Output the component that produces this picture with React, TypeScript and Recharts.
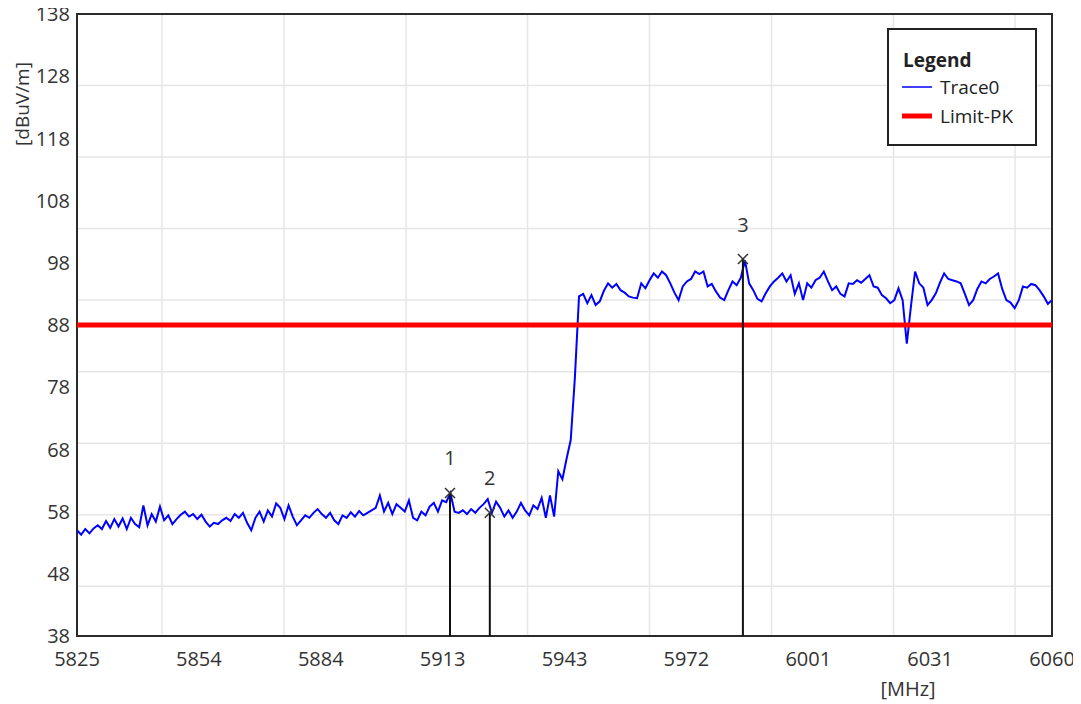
import React from 'react';
import {
  LineChart,
  Line,
  XAxis,
  YAxis,
  CartesianGrid,
  ReferenceLine,
  ReferenceDot,
  ReferenceArea,
} from 'recharts';

// ---- data ----
const traceStartMHz = 5825;
const traceStepMHz = 1;
const traceLevels = [
  55.0, 54.3, 55.2, 54.5, 55.3, 55.8, 55.2, 56.5, 55.4, 56.8,
  55.6, 56.9, 55.2, 57.0, 56.0, 55.5, 59.0, 55.8, 57.6, 56.4,
  58.8, 56.6, 57.4, 56.0, 56.8, 57.5, 58.0, 57.2, 57.6, 56.8,
  57.5, 56.4, 55.6, 56.2, 56.0, 56.6, 57.0, 56.5, 57.6, 57.0,
  57.8, 56.2, 55.0, 57.0, 58.0, 56.4, 58.2, 57.2, 59.3, 58.6,
  56.8, 59.0, 57.2, 55.8, 56.6, 57.4, 57.0, 57.8, 58.4, 57.6,
  57.0, 57.8, 56.6, 56.0, 57.4, 57.0, 57.9, 57.2, 58.1, 57.4,
  57.8, 58.2, 58.6, 60.6, 58.0, 59.4, 57.6, 59.2, 58.6, 58.0,
  59.8, 57.0, 56.6, 58.0, 57.4, 58.8, 59.4, 58.0, 59.8, 59.5,
  61.0, 58.0, 57.8, 58.2, 57.6, 58.4, 57.8, 58.6, 59.2, 60.0,
  57.8, 59.6, 58.6, 57.2, 58.2, 57.0, 58.0, 59.4, 58.2, 57.4,
  59.0, 58.4, 60.2, 57.0, 60.6, 57.2, 64.5, 63.2, 66.5, 69.5,
  79.5, 92.6, 93.0, 91.5, 92.8, 91.2, 91.8, 93.5, 94.7, 94.0,
  94.6, 93.6, 93.2, 92.6, 92.4, 92.3, 94.7, 93.9, 95.2, 96.3,
  95.6, 96.6, 96.0, 94.7, 93.2, 92.0, 94.2, 95.0, 95.4, 96.6,
  96.2, 96.6, 94.2, 94.6, 93.4, 92.4, 92.0, 93.6, 95.0, 94.4,
  95.6, 98.4, 94.7, 93.6, 92.2, 91.8, 93.1, 94.2, 95.0, 95.6,
  96.3, 95.0, 96.0, 93.0, 94.7, 92.0, 94.7, 94.0, 95.2, 95.6,
  96.6, 95.0, 93.6, 94.2, 93.0, 92.6, 94.7, 94.6, 95.2, 94.8,
  95.4, 96.0, 94.2, 94.0, 92.8, 92.3, 91.5, 92.0, 93.9, 92.0,
  85.0, 91.0, 96.6, 94.7, 94.0, 91.2, 92.0, 93.1, 94.8, 96.3,
  95.4, 95.2, 95.0, 94.7, 93.0, 91.2, 92.0, 93.8, 95.0, 94.7,
  95.4, 95.8, 96.3, 93.8, 92.0, 91.6, 90.7, 92.0, 94.2, 94.0,
  94.6, 94.4, 93.6, 92.6, 91.4, 92.0,
];

const limitPK = 88;

const markerFreqs = [5914.9, 5924.5, 5985.5];
const markerLevels = [61.0, 57.8, 98.6];
const markerLabels = ['1', '2', '3'];

const xDomain = [5825, 6060];
const yDomain = [38, 138];
const xTicks = [5825, 5854.375, 5883.75, 5913.125, 5942.5, 5971.875, 6001.25, 6030.625, 6060];
const xTickLabels = ['5825', '5854', '5884', '5913', '5943', '5972', '6001', '6031', '6060'];
const yTicks = [38, 48, 58, 68, 78, 88, 98, 108, 118, 128, 138];
const gridX = [5845.5, 5874.9, 5904.3, 5933.6, 5963.0, 5992.4, 6021.8, 6051.1];
const gridY = [46.0, 57.5, 69.0, 80.5, 92.0, 103.5, 115.0, 126.5];

const traceData = traceLevels.map((v, i) => ({ freq: traceStartMHz + i * traceStepMHz, level: v }));

const FONT = '"Open Sans", "Noto Sans", sans-serif';
const TXT = '#333';

const W = 1081;
const H = 704;

function MarkerShape(props: any) {
  const { cx, cy, label } = props;
  if (cx == null || cy == null) return null;
  const s = 5;
  return (
    <g>
      <line x1={cx - s} y1={cy - s} x2={cx + s} y2={cy + s} stroke="#333" strokeWidth={1.5} />
      <line x1={cx - s} y1={cy + s} x2={cx + s} y2={cy - s} stroke="#333" strokeWidth={1.5} />
      <text x={cx} y={cy - 35} textAnchor="middle" dominantBaseline="central" fontSize={20} fill={TXT} fontFamily={FONT}>
        {label}
      </text>
    </g>
  );
}

function LegendBox() {
  return (
    <svg width={150} height={118} style={{ position: 'absolute', left: 887, top: 28 }}>
      <rect x={1} y={1} width={148} height={116} fill="#fff" stroke="#222" strokeWidth={2} />
      <text x={16} y={39} fontSize={19} fontWeight="bold" fill="#222" fontFamily={FONT}>Legend</text>
      <line x1={15} x2={45} y1={59} y2={59} stroke="#0000ff" strokeWidth={1.5} />
      <text x={53} y={66} fontSize={19} fill="#222" fontFamily={FONT}>Trace0</text>
      <line x1={15} x2={45} y1={88} y2={88} stroke="#ff0000" strokeWidth={5} />
      <text x={53} y={95} fontSize={19} fill="#222" fontFamily={FONT}>Limit-PK</text>
    </svg>
  );
}

export default function App() {
  return (
    <div style={{ position: 'relative', width: W, height: H, margin: '-8px 0 0 -8px', background: '#fff', fontFamily: FONT }}>
      <LineChart
        width={W}
        height={H}
        data={traceData}
        margin={{ top: 14, right: 29, bottom: 0, left: 0 }}
        style={{ fontFamily: FONT }}
      >
        <CartesianGrid
          horizontalValues={gridY}
          verticalValues={gridX}
          stroke="#e6e6e6"
          strokeWidth={1.5}
        />
        <XAxis
          dataKey="freq"
          type="number"
          domain={xDomain}
          ticks={xTicks}
          tickFormatter={(v: number) => xTickLabels[xTicks.indexOf(v)] ?? String(Math.round(v))}
          interval={0}
          axisLine={false}
          tickLine={false}
          tickMargin={10}
          height={68}
          tick={{ fontSize: 20, fill: TXT, fontFamily: FONT }}
          allowDataOverflow
          label={{
            content: () => (
              <text x={908} y={688} textAnchor="middle" dominantBaseline="central" fontSize={20} fill={TXT} fontFamily={FONT}>
                [MHz]
              </text>
            ),
          }}
        />
        <YAxis
          type="number"
          domain={yDomain}
          ticks={yTicks}
          interval={0}
          axisLine={false}
          tickLine={false}
          tickMargin={1}
          width={77}
          tick={{ fontSize: 20, fill: TXT, fontFamily: FONT }}
          allowDataOverflow
          label={{
            content: () => (
              <text
                x={22}
                y={104}
                transform="rotate(-90 22 104)"
                textAnchor="middle"
                dominantBaseline="central"
                fontSize={19}
                fill={TXT}
                fontFamily={FONT}
              >
                [dBuV/m]
              </text>
            ),
          }}
        />
        <Line
          type="linear"
          dataKey="level"
          stroke="#0000ff"
          strokeWidth={2}
          dot={false}
          activeDot={false}
          isAnimationActive={false}
        />
        <ReferenceLine y={limitPK} stroke="#ff0000" strokeWidth={5} />
        {markerFreqs.map((f, i) => (
          <ReferenceLine
            key={'ml' + i}
            segment={[
              { x: f, y: yDomain[0] },
              { x: f, y: markerLevels[i] },
            ]}
            stroke="#111"
            strokeWidth={2}
          />
        ))}
        {markerFreqs.map((f, i) => (
          <ReferenceDot
            key={'md' + i}
            x={f}
            y={markerLevels[i]}
            r={5}
            shape={(p: any) => <MarkerShape {...p} label={markerLabels[i]} />}
          />
        ))}
        <ReferenceArea
          x1={xDomain[0]}
          x2={xDomain[1]}
          y1={yDomain[0]}
          y2={yDomain[1]}
          fill="none"
          fillOpacity={0}
          stroke="#2b2b2b"
          strokeWidth={2}
          ifOverflow="visible"
        />
      </LineChart>
      <LegendBox />
    </div>
  );
}
